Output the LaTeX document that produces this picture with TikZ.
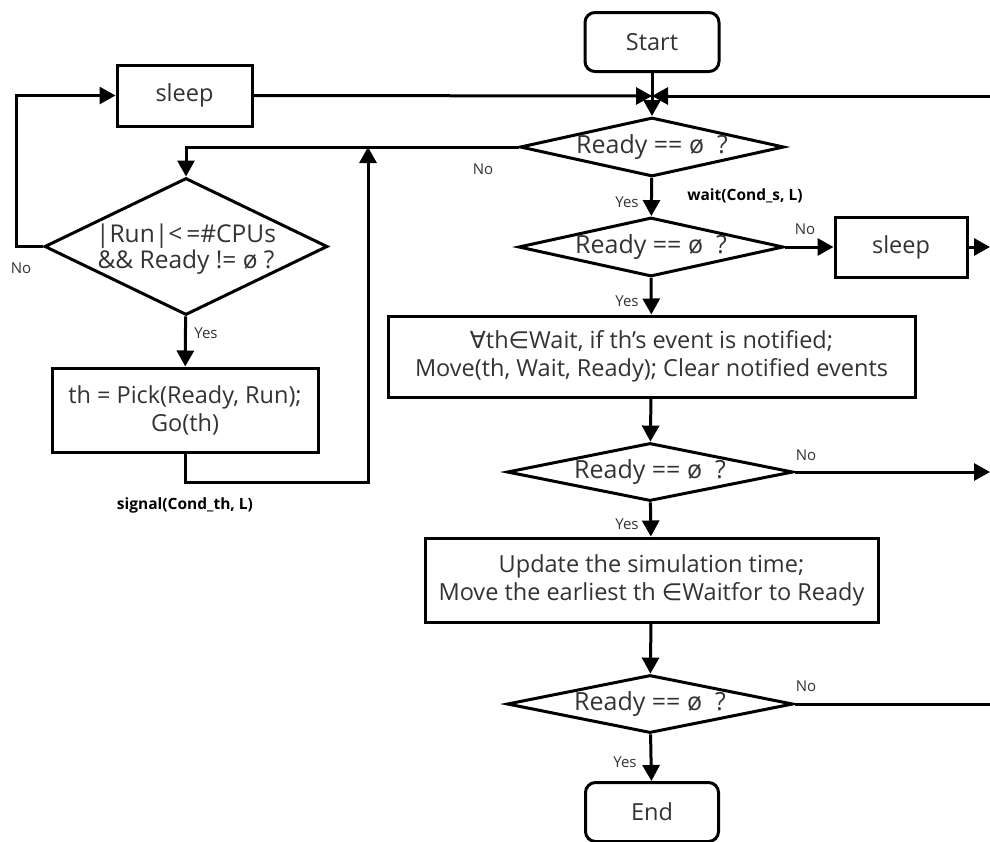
\documentclass[tikz,border=0pt]{standalone}
\usepackage{fontspec}
\setmainfont{Open Sans}
\newfontfamily\symfont{DejaVu Sans}
\usetikzlibrary{shapes.geometric,arrows.meta}
\definecolor{txt}{HTML}{333333}

\begin{document}
\begin{tikzpicture}[x=1pt,y=-1pt,
  line width=3pt,
  >={Triangle[length=16pt,width=17pt]},
  every node/.style={text=txt, font=\fontsize{23.5}{28}\selectfont},
  proc/.style={draw=black, fill=white, align=center, inner sep=0pt},
  term/.style={proc, rounded corners=10pt},
  dec/.style={draw=black, fill=white, shape=diamond, inner sep=0pt},
  dtext/.style={label={[align=center, text=txt, inner sep=0pt, font=\fontsize{25}{26}\selectfont]center:#1}},
  dtext2/.style={label={[align=center, text=txt, inner sep=0pt, yshift=-3pt, font=\fontsize{24.5}{26}\selectfont]center:#1}},
  lbl/.style={font=\fontsize{15}{17}\selectfont, inner sep=1pt},
  blbl/.style={font=\bfseries\fontsize{15.5}{18}\selectfont, text=black, inner sep=1pt}
]
\useasboundingbox (0,0) rectangle (990,841);
\clip (0,0) rectangle (990,841);
\fill[white] (0,0) rectangle (990,841);

% main column
\node[term, minimum width=134pt, minimum height=59pt] (start) at (652,42) {Start};
\node[dec, minimum width=264pt, minimum height=59pt, dtext={Ready == ø\ \ ?}] (dA) at (652,147) {};
\node[dec, minimum width=265pt, minimum height=59pt, dtext={Ready == ø\ \ ?}] (dB) at (651,247) {};
\node[proc, minimum width=527pt, minimum height=81pt] (notify) at (651.5,356.5)
  {{\symfont ∀}th{\symfont ∈}Wait, if th’s event is notified;\\Move(th, Wait, Ready); Clear notified events};
\node[dec, minimum width=286pt, minimum height=58pt, dtext={Ready == ø\ \ ?}] (dC) at (650,472) {};
\node[proc, minimum width=453pt, minimum height=84pt] (upd) at (651.5,580)
  {Update the simulation time;\\Move the earliest th {\symfont ∈}Waitfor to Ready};
\node[dec, minimum width=286pt, minimum height=58pt, dtext={Ready == ø\ \ ?}] (dD) at (650,704) {};
\node[term, minimum width=133pt, minimum height=59pt] (endn) at (652,812) {End};
\node[proc, minimum width=132pt, minimum height=60pt] (sleepR) at (901,247) {sleep};

% scheduler loop on the left
\node[proc, minimum width=135pt, minimum height=61pt] (sleepL) at (184.5,95.5) {sleep};
\node[dec, minimum width=283pt, minimum height=137pt,
      dtext2={|Run|<\,=\#CPUs\\\&\& Ready != ø ?}] (dL) at (186,246.5) {};
\node[proc, minimum width=266pt, minimum height=84pt] (pick) at (185,410)
  {th = Pick(Ready, Run);\\Go(th)};

% free ends and junctions
\coordinate (mg) at (652,96);
\coordinate (rtop) at (996,96);
\coordinate (rB) at (990,247);
\coordinate (rC) at (990,472);
\coordinate (rD) at (996,704);
\coordinate (jn) at (368,147);

% connectors
\draw[->] (start) -- (dA);
\draw[->] (sleepL.east) -- (mg);
\draw[->] (rtop) -- (mg);
\draw[->] (dA) -- (dB);
\draw[->] (dB) -- (sleepR);
\draw[->] (sleepR.east) -- (rB);
\draw[->] (dB) -- (notify);
\draw[->] (notify) -- (dC);
\draw[->] (dC.east) -- (rC);
\draw[->] (dC) -- (upd);
\draw[->] (upd) -- (dD);
\draw (dD.east) -- (rD);
\draw[->] (dD) -- (endn);

\draw[->] (dA.west) -| (dL.north);
\draw[->] (dL.west) -- ++(-27,0) |- (sleepL.west);
\draw[->] (dL) -- (pick);
\draw[->] (pick.south) -- ++(0,29) -| (jn);

% labels
\node[lbl] at (483,169) {No};
\node[lbl] at (627,202) {Yes};
\node[blbl] at (745,196) {wait(Cond\_s, L)};
\node[lbl] at (805,229) {No};
\node[lbl] at (627,301) {Yes};
\node[lbl] at (806,455) {No};
\node[lbl] at (627,524) {Yes};
\node[lbl] at (806,686) {No};
\node[lbl] at (625,762) {Yes};
\node[lbl] at (21,268) {No};
\node[lbl] at (206,333) {Yes};
\node[blbl] at (185,505) {signal(Cond\_th, L)};
\end{tikzpicture}
\end{document}
